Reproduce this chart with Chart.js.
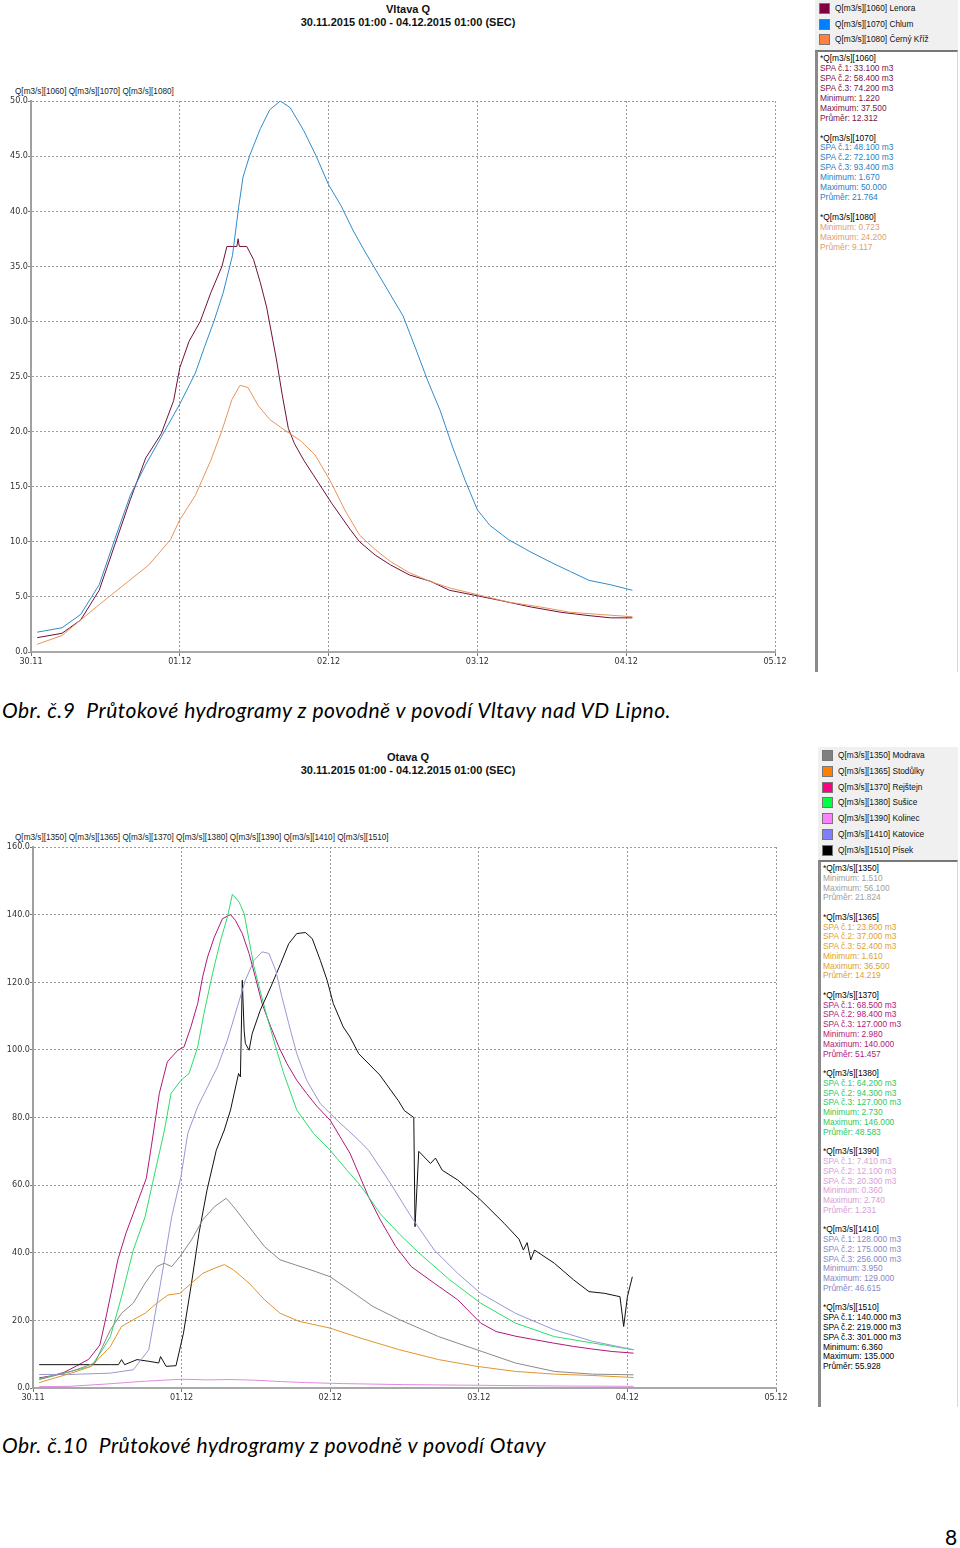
<!DOCTYPE html>
<html>
<head>
<meta charset="utf-8">
<script src="https://cdn.jsdelivr.net/npm/chart.js@4.4.1/dist/chart.umd.min.js"></script>
<style>
  body { margin: 0; background: #fff; width: 960px; height: 1548px; position: relative; overflow: hidden;
         font-family: 'Liberation Sans', Arial, sans-serif; }
  canvas { position: absolute; left: 0; }
  .title { position: absolute; left: 0; width: 816px; text-align: center; font-size: 11px; font-weight: bold;
           color: #111; line-height: 13px; }
  .axlab { position: absolute; left: 15px; font-family: 'Liberation Sans Narrow', sans-serif; font-size: 8.2px;
           color: #222; white-space: nowrap; }
  .legend { position: absolute; background: #f0f0f0; font-family: 'Liberation Sans Narrow', sans-serif;
            font-size: 8.3px; color: #111; }
  .legend div { position: absolute; white-space: nowrap; line-height: 11px; }
  .legend i { display: inline-block; width: 9px; height: 9px; border: 1px solid #777; vertical-align: top;
              margin-right: 5px; }
  .stats { position: absolute; background: #fff; border-left: 3px solid #8a8a8a; border-right: 1px solid #d8d8d8;
           border-top: 2px solid #777; font-family: 'Liberation Sans Narrow', sans-serif; font-size: 8.4px;
           white-space: pre; padding-left: 2px; padding-top: 2px; box-sizing: border-box; }
  .caption { position: absolute; left: 2px; font-family: Lato, sans-serif; font-style: italic; font-size: 21px;
             white-space: nowrap; color: #000; }
</style>
</head>
<body>

<div class="title" style="top:3px">Vltava Q</div>
<div class="title" style="top:16px">30.11.2015 01:00 - 04.12.2015 01:00 (SEC)</div>
<div class="axlab" style="top:87px">Q[m3/s][1060] Q[m3/s][1070] Q[m3/s][1080]</div>
<canvas id="vltava" width="800" height="600" style="top:80px"></canvas>

<div class="legend" id="legTop" style="left:815px;top:0;width:143px;height:50px"></div>
<div class="stats" id="statsTop" style="left:815px;top:50px;width:143px;height:622px"></div>

<div class="caption" id="cap1" style="top:697px">Obr. č.9&nbsp; Průtokové hydrogramy z povodně v povodí Vltavy nad VD Lipno.</div>

<div class="title" style="top:751px">Otava Q</div>
<div class="title" style="top:764px">30.11.2015 01:00 - 04.12.2015 01:00 (SEC)</div>
<div class="axlab" style="top:833px">Q[m3/s][1350] Q[m3/s][1365] Q[m3/s][1370] Q[m3/s][1380] Q[m3/s][1390] Q[m3/s][1410] Q[m3/s][1510]</div>
<canvas id="otava" width="800" height="590" style="top:826px"></canvas>

<div class="legend" id="legBot" style="left:818px;top:747px;width:140px;height:113px"></div>
<div class="stats" id="statsBot" style="left:818px;top:860px;width:140px;height:547px"></div>

<div class="caption" id="cap2" style="top:1432px">Obr. č.10&nbsp; Průtokové hydrogramy z povodně v povodí Otavy</div>
<div class="caption" style="left:945px;top:1524px;font-style:normal">8</div>

<script>
// time axis: hours since 30.11.2015 00:00
const dayHours = [0, 24, 48, 72, 96, 120];
const dayLabels = ["30.11", "01.12", "02.12", "03.12", "04.12", "05.12"];

// ---- Vltava (top chart) ----
const lenoraH = [1, 5, 8, 11, 13.5, 16, 18.5, 21, 23, 24, 25.5, 27.3, 29, 30.8, 31.6, 33.2, 33.4, 33.6, 34.8, 35.9,
                 37, 38, 39.6, 40.5, 41.5, 42.5, 44, 45.5, 47, 48.5, 50, 51.5, 53, 55.5, 58, 61, 64.5, 67.5, 72, 75.5,
                 80.5, 85.5, 90, 93.5, 97];
const lenoraQ = [1.3, 1.7, 2.9, 5.6, 9.7, 13.8, 17.6, 19.8, 22.8, 25.8, 28.2, 30.0, 32.6, 35.0, 36.8, 36.8, 37.5, 36.8, 36.8, 35.6,
                 33.5, 31.3, 26.5, 23.4, 20.3, 18.9, 17.4, 16.1, 14.8, 13.5, 12.3, 11.1, 10.0, 8.8, 7.9, 7.0, 6.4, 5.6, 5.1, 4.7,
                 4.1, 3.6, 3.3, 3.1, 3.1];
const chlumH = [1, 5, 8, 11, 13.5, 16, 18.5, 21, 24, 26.5, 28, 29.5, 31, 32.5, 33.5, 34.2, 35.3, 37, 38.5, 40.2,
                41.8, 44, 46, 48, 50, 52, 54, 56, 58, 60, 62, 64, 66, 68, 70, 72, 74, 77, 80.5, 84, 87, 90, 93.5, 97];
const chlumQ = [1.8, 2.2, 3.4, 6.1, 10.2, 14.2, 17.0, 19.5, 22.5, 25.3, 27.7, 30.0, 32.6, 36.0, 40.4, 43.1, 45.1, 47.5, 49.2, 50.0,
                49.4, 47.3, 45.0, 42.4, 40.5, 38.2, 36.2, 34.3, 32.4, 30.5, 27.6, 24.6, 21.9, 18.6, 15.6, 12.9, 11.5, 10.2, 9.1, 8.1,
                7.3, 6.5, 6.1, 5.6];
const krizH = [1, 5, 8, 11, 15, 19, 22.5, 24, 26.5, 29, 30.8, 32.4, 33.7, 35, 36.6, 38.5, 41, 43.4, 45.8, 48.2,
               50.6, 53, 55.5, 58, 61, 64.4, 67.6, 72, 77.3, 82, 87, 92, 97];
const krizQ = [0.7, 1.5, 2.9, 4.3, 6.1, 7.9, 10.2, 12.0, 14.2, 17.4, 20.1, 22.9, 24.2, 24.0, 22.4, 21.1, 20.1, 19.2, 17.9, 15.6,
               12.9, 10.6, 9.3, 8.2, 7.2, 6.4, 5.8, 5.2, 4.5, 4.1, 3.6, 3.4, 3.2];

// ---- Otava (bottom chart) ----
const modravaH = [1, 6.2, 10, 12.5, 14.3, 16.2, 18.1, 20, 21.2, 22.4, 23.7, 25.6, 27.4, 29.3, 31.2, 32.4, 34.9, 37.4, 39.9, 42.4,
                  44.9, 48, 51.1, 54.9, 59.2, 65.5, 71.7, 77.9, 84.2, 90.4, 97];
const modravaQ = [2.5, 4.9, 7.4, 17.2, 22.1, 25.1, 31, 35.9, 36.9, 35.9, 38.8, 43.8, 49.7, 53.6, 56.1, 53.6, 47.7, 41.8, 37.9, 36.4,
                  34.9, 32.9, 29, 24.1, 20.2, 15.2, 11.3, 7.4, 4.9, 4.1, 3.9];
const stodulkyH = [1, 6.2, 9.4, 12.5, 14.3, 16.2, 18.1, 20, 21.8, 23.7, 25.6, 27.4, 29.3, 30.9, 32.4, 34.9, 37.4, 39.9, 43, 48,
                   53, 59.2, 65.5, 71.7, 77.9, 84.2, 90.4, 97];
const stodulkyQ = [1.6, 4.4, 6.4, 12.3, 18.2, 20.2, 22.1, 25.1, 27.5, 28, 31, 33.9, 35.4, 36.5, 34.9, 31, 26.1, 22.1, 19.7, 17.7,
                   14.7, 11.3, 8.4, 6.4, 4.9, 4.1, 3.7, 3.1];
const rejstejnH = [1, 3, 5, 7, 9, 10.8, 11.8, 12.6, 13.7, 15, 16.8, 18.3, 19.1, 20.4, 21.7, 23.4, 24.4, 25.5, 26.6, 27.4,
                   28.2, 29.3, 30.6, 31.9, 32.7, 33.8, 34.9, 35.9, 37, 38.4, 39.7, 41, 42.6, 44.2, 45.9, 48, 49.6, 51.2, 52.6, 54.2,
                   56.1, 58.6, 61.1, 64.8, 68.6, 72.3, 74.8, 78, 81, 84, 87.3, 90, 93.5, 97];
const rejstejnQ = [3.0, 3.6, 4.6, 6.5, 8.5, 12.7, 21, 28, 37.9, 45.7, 54.6, 62, 71.3, 87.1, 96.5, 99.9, 100.9, 106.8, 113.7, 121.6,
                   127.5, 133.4, 138.8, 140, 138.3, 134.4, 128.5, 121.6, 113.7, 106.8, 100.9, 96, 91, 87.1, 83.2, 79.2, 74.3, 69.4, 63.4, 56.5,
                   49.7, 41.8, 35.9, 31, 26.1, 19.2, 16.7, 15.3, 14.3, 13.3, 12.3, 11.6, 10.8, 10.3];
const susiceH = [1, 6, 9.4, 11.2, 12.5, 14.3, 16.2, 18.1, 19.3, 21.2, 22.3, 23.9, 25.2, 26.6, 27.6, 29, 30.3, 31.4, 32.2, 33.3,
                 34.1, 34.9, 35.7, 36.8, 37.8, 39.2, 40.5, 42.6, 45.3, 48, 50.7, 52.6, 54.2, 56.1, 59.2, 62.3, 67.3, 72.3, 77.9, 84.2,
                 90.4, 97];
const susiceQ = [2.7, 4.9, 6.4, 11.3, 15.2, 27, 40.8, 50.6, 60.5, 76, 87.1, 91, 93, 100.9, 110.7, 122.6, 132.4, 139.3, 146, 143.7,
                 140.3, 132.4, 124.5, 116.7, 109.8, 100.9, 93, 82.2, 75.3, 70.3, 64.4, 60.5, 56.5, 51.5, 45.5, 40, 32, 25.1, 19.2, 15.2,
                 13.3, 11.3];
const kolinecH = [1, 6, 12, 18, 24, 28, 32, 36, 40, 44, 50, 60, 72, 84, 97];
const kolinecQ = [0.4, 0.5, 1.2, 2.0, 2.6, 2.4, 2.5, 2.3, 1.9, 1.6, 1.3, 1.0, 0.8, 0.6, 0.5];
const katoviceH = [1, 6, 12.5, 16.2, 18.7, 20.6, 22.4, 23.9, 25, 26.6, 28.2, 29.8, 31.4, 33, 34.3, 35.7, 37, 38.1, 39.2, 40.2,
                   41.3, 42.6, 44.2, 46.4, 49.1, 52.6, 54.2, 57.4, 61.1, 64.8, 68.6, 72.3, 77.9, 84.2, 90.4, 97];
const katoviceQ = [4, 4, 4.4, 5.4, 11.3, 31, 50.6, 62.5, 75.3, 83.2, 89.1, 95, 102.9, 112.7, 120.6, 126.5, 129, 128.5, 123.5, 115.7,
                   107.8, 98.9, 91, 84.1, 79.2, 73.3, 70.3, 61.5, 50.6, 40.8, 33.9, 28, 22.1, 17.2, 13.8, 11.3];
const pisekH = [1, 12.5, 13.8, 14.3, 14.8, 16.8, 18.7, 20.3, 20.6, 21.5, 23.1, 24.3, 25.6, 26.8, 28.1, 29.6, 30.9, 31.9, 33.2, 33.5,
                33.8, 34.1, 34.3, 34.9, 35.4, 36.7, 38.4, 40, 41.3, 42.6, 44, 45.1, 46.4, 47.5, 48.5, 50.1, 51.2, 52.6, 56, 59,
                60, 61.5, 61.7, 62.3, 64.2, 65, 66.1, 68.6, 72.3, 76.1, 78.5, 79.2, 79.8, 80.4, 81, 84.2, 87.3, 89.8, 92.3, 94.8,
                95.4, 96, 96.8];
const pisekQ = [6.9, 6.9, 6.9, 8.4, 6.9, 8.4, 7.9, 7.4, 9.3, 6.4, 6.6, 16.2, 31, 45.7, 58.5, 70.3, 76.3, 82.2, 93, 92,
                120.6, 105.8, 101.9, 99.9, 104.8, 111.7, 118.6, 125.5, 131.4, 134.4, 134.7, 132.9, 126.5, 120.6, 113.7, 106.8, 103.8, 98.9, 92.6, 85,
                82, 80, 47.7, 70, 66.4, 68, 64.4, 61.5, 55.6, 48.7, 44, 40.8, 43, 37.9, 40.8, 36.9, 32, 28.5, 28, 27,
                18.2, 27, 32.9];

// legend + statistics panel text
const topLegend = [["#800040", "Q[m3/s][1060] Lenora"], ["#0080ff", "Q[m3/s][1070] Chlum"], ["#ff8040", "Q[m3/s][1080] Černý Kříž"]];
const botLegend = [["#808080", "Q[m3/s][1350] Modrava"], ["#ff8000", "Q[m3/s][1365] Stodůlky"], ["#ff0080", "Q[m3/s][1370] Rejštejn"],
                   ["#00ff40", "Q[m3/s][1380] Sušice"], ["#ff80ff", "Q[m3/s][1390] Kolinec"], ["#8080ff", "Q[m3/s][1410] Katovice"],
                   ["#000000", "Q[m3/s][1510] Písek"]];
const topStats = [
  ["*Q[m3/s][1060]", "#7a1448", ["SPA č.1: 33.100 m3", "SPA č.2: 58.400 m3", "SPA č.3: 74.200 m3", "Minimum: 1.220", "Maximum: 37.500", "Průměr: 12.312"]],
  ["*Q[m3/s][1070]", "#2a80c4", ["SPA č.1: 48.100 m3", "SPA č.2: 72.100 m3", "SPA č.3: 93.400 m3", "Minimum: 1.670", "Maximum: 50.000", "Průměr: 21.764"]],
  ["*Q[m3/s][1080]", "#e0a070", ["Minimum: 0.723", "Maximum: 24.200", "Průměr: 9.117"]]
];
const botStats = [
  ["*Q[m3/s][1350]", "#a0a0a0", ["Minimum: 1.510", "Maximum: 56.100", "Průměr: 21.824"]],
  ["*Q[m3/s][1365]", "#e0a030", ["SPA č.1: 23.800 m3", "SPA č.2: 37.000 m3", "SPA č.3: 52.400 m3", "Minimum: 1.610", "Maximum: 36.500", "Průměr: 14.219"]],
  ["*Q[m3/s][1370]", "#b0207a", ["SPA č.1: 68.500 m3", "SPA č.2: 98.400 m3", "SPA č.3: 127.000 m3", "Minimum: 2.980", "Maximum: 140.000", "Průměr: 51.457"]],
  ["*Q[m3/s][1380]", "#30c860", ["SPA č.1: 64.200 m3", "SPA č.2: 94.300 m3", "SPA č.3: 127.000 m3", "Minimum: 2.730", "Maximum: 146.000", "Průměr: 48.583"]],
  ["*Q[m3/s][1390]", "#d8a0d8", ["SPA č.1: 7.410 m3", "SPA č.2: 12.100 m3", "SPA č.3: 20.300 m3", "Minimum: 0.360", "Maximum: 2.740", "Průměr: 1.231"]],
  ["*Q[m3/s][1410]", "#8888c8", ["SPA č.1: 128.000 m3", "SPA č.2: 175.000 m3", "SPA č.3: 256.000 m3", "Minimum: 3.950", "Maximum: 129.000", "Průměr: 46.615"]],
  ["*Q[m3/s][1510]", "#000000", ["SPA č.1: 140.000 m3", "SPA č.2: 219.000 m3", "SPA č.3: 301.000 m3", "Minimum: 6.360", "Maximum: 135.000", "Průměr: 55.928"]]
];

function buildLegend(id, items, y0, step, x0) {
  const box = document.getElementById(id);
  items.forEach((it, i) => {
    const d = document.createElement("div");
    d.style.left = x0 + "px";
    d.style.top = (y0 + i * step) + "px";
    d.innerHTML = '<i style="background:' + it[0] + '"></i>' + it[1];
    box.appendChild(d);
  });
}

function buildStats(id, groups, lh) {
  const box = document.getElementById(id);
  const add = (txt, col) => {
    const d = document.createElement("div");
    d.style.height = lh + "px";
    d.style.lineHeight = lh + "px";
    d.style.color = col;
    d.textContent = txt;
    box.appendChild(d);
  };
  groups.forEach(g => {
    add(g[0], "#000");
    g[2].forEach(t => add(t, g[1]));
    add(" ", "#000");
  });
}

buildLegend("legTop", topLegend, 3, 15.7, 4);
buildLegend("legBot", botLegend, 3, 15.8, 4);
buildStats("statsTop", topStats, 9.95);
buildStats("statsBot", botStats, 9.78);

const pts = (hs, qs) => hs.map((h, i) => ({ x: h, y: qs[i] }));
const tickFont = { family: "'Liberation Sans Narrow', 'DejaVu Sans Condensed', sans-serif", size: 9 };

function drawHydrograph(id, datasets, yMax, yStep, yWidth, padRight) {
  const canvas = document.getElementById(id);
  const xHeight = 28;
  return new Chart(canvas.getContext("2d"), {
    type: "line",
    data: { datasets: datasets },
    options: {
      responsive: false,
      animation: false,
      devicePixelRatio: 1,
      layout: { padding: { top: 21, right: padRight, left: 0, bottom: 0 } },
      plugins: { legend: { display: false }, tooltip: { enabled: false } },
      elements: { point: { radius: 0 }, line: { borderWidth: 1, tension: 0 } },
      scales: {
        x: {
          type: "linear", min: 0, max: 120,
          afterBuildTicks: a => { a.ticks = dayHours.map(v => ({ value: v })); },
          afterFit: s => { s.height = xHeight; },
          ticks: { callback: v => dayLabels[dayHours.indexOf(v)], font: tickFont, color: "#333",
                   padding: 0, maxRotation: 0, autoSkip: false },
          grid: { color: "#9a9a9a", tickColor: "#777", tickLength: 4, tickBorderDash: [] },
          border: { display: true, color: "#a8a8a8", width: 2, dash: [2, 2] }
        },
        y: {
          min: 0, max: yMax,
          afterFit: s => { s.width = yWidth; },
          ticks: { stepSize: yStep, callback: v => v.toFixed(1), font: tickFont, color: "#333", padding: 0 },
          grid: { color: "#9a9a9a", tickColor: "#777", tickLength: 3, tickBorderDash: [] },
          border: { display: true, color: "#a0a0a0", width: 2, dash: [2, 2] }
        }
      }
    }
  });
}

drawHydrograph("vltava", [
  { data: pts(krizH, krizQ), borderColor: "#e8955a" },
  { data: pts(chlumH, chlumQ), borderColor: "#2e8ccc" },
  { data: pts(lenoraH, lenoraQ), borderColor: "#70103c" }
], 50, 5, 31, 25);

drawHydrograph("otava", [
  { data: pts(kolinecH, kolinecQ), borderColor: "#e088e0" },
  { data: pts(modravaH, modravaQ), borderColor: "#8a8a8a" },
  { data: pts(stodulkyH, stodulkyQ), borderColor: "#e0952c" },
  { data: pts(katoviceH, katoviceQ), borderColor: "#9898d4" },
  { data: pts(pisekH, pisekQ), borderColor: "#111111" },
  { data: pts(susiceH, susiceQ), borderColor: "#2cdc6a" },
  { data: pts(rejstejnH, rejstejnQ), borderColor: "#b0187a" }
], 160, 20, 33, 24);

// stretch captions to the width they take in the original
function fitWidth(id, target) {
  const el = document.getElementById(id);
  el.style.letterSpacing = "0px";
  const w = el.getBoundingClientRect().width;
  el.style.letterSpacing = ((target - w) / el.textContent.length) + "px";
}
fitWidth("cap1", 669);
fitWidth("cap2", 544);
</script>
</body>
</html>
